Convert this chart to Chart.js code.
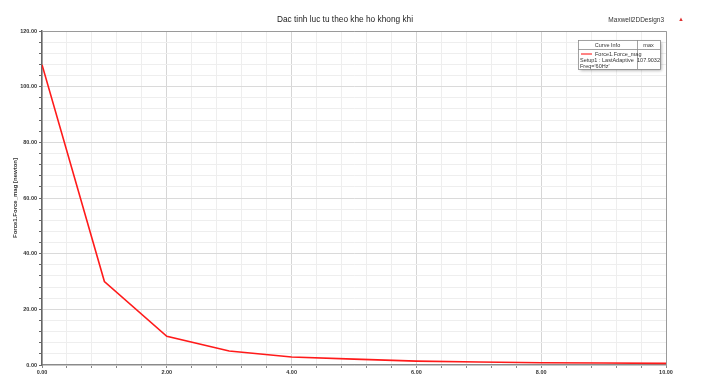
<!DOCTYPE html>
<html>
<head>
<meta charset="utf-8">
<script src="https://cdn.jsdelivr.net/npm/chart.js@4/dist/chart.umd.min.js"></script>
<style>
  html, body { margin: 0; padding: 0; background: #fff; }
  #wrap { position: relative; width: 710px; height: 377px; }
</style>
</head>
<body>
<div id="wrap"><canvas id="c" width="710" height="377"></canvas></div>
<script>
// Air gap (mm) and magnetic force magnitude (N)
const gap = [0, 1, 2, 3, 4, 5, 6, 7, 8, 9, 10];
const force = [107.9032, 30.0, 10.3, 5.0, 2.9, 2.1, 1.4, 1.1, 0.8, 0.7, 0.6];

const chartTitle = 'Dac tinh luc tu theo khe ho khong khi';
const designName = 'Maxwell2DDesign3';
const yAxisTitle = 'Force1.Force_mag [newton]';
const curveName = 'Force1.Force_mag';
const curveSetup = 'Setup1 : LastAdaptive';
const curveFreq = "Freq='60Hz'";

const FONT = '"Liberation Sans", Arial, sans-serif';
const near = (v, step) => Math.abs(v / step - Math.round(v / step)) < 1e-6;

// Title, design label, frame and curve-info box
const decor = {
  id: 'decor',
  afterDraw(chart) {
    const { ctx, chartArea: a } = chart;
    ctx.save();
    // top/right frame
    ctx.strokeStyle = '#9a9a9a';
    ctx.lineWidth = 1;
    ctx.beginPath();
    ctx.moveTo(a.left, a.top + 0.5);
    ctx.lineTo(a.right + 0.5, a.top + 0.5);
    ctx.lineTo(a.right + 0.5, a.bottom);
    ctx.stroke();

    ctx.fillStyle = '#222';
    ctx.font = '8.3px ' + FONT;
    ctx.textAlign = 'center';
    ctx.textBaseline = 'middle';
    ctx.fillText(chartTitle, 345, 20);

    ctx.font = '6.5px ' + FONT;
    ctx.textAlign = 'right';
    ctx.fillStyle = '#333';
    ctx.fillText(designName, 664, 20);
    ctx.fillStyle = '#e03030';
    ctx.font = '6px ' + FONT;
    ctx.textAlign = 'center';
    ctx.fillText('\u25B2', 681, 19);

    // curve info box
    const bx = 578, by = 40, bw = 82, bh = 29, cx = 637;
    ctx.shadowColor = 'rgba(0,0,0,0.35)';
    ctx.shadowBlur = 3;
    ctx.shadowOffsetX = 1.5;
    ctx.shadowOffsetY = 1.5;
    ctx.fillStyle = '#fff';
    ctx.fillRect(bx, by, bw, bh);
    ctx.shadowColor = 'transparent';
    ctx.strokeStyle = '#8a8a8a';
    ctx.lineWidth = 0.8;
    ctx.strokeRect(bx + 0.5, by + 0.5, bw, bh);
    ctx.beginPath();
    ctx.moveTo(bx, by + 9.5); ctx.lineTo(bx + bw, by + 9.5);
    ctx.moveTo(cx + 0.5, by); ctx.lineTo(cx + 0.5, by + bh);
    ctx.stroke();

    ctx.fillStyle = '#333';
    ctx.font = '5.5px ' + FONT;
    ctx.textAlign = 'center';
    ctx.fillText('Curve Info', (bx + cx) / 2, by + 5);
    ctx.fillText('max', (cx + bx + bw) / 2, by + 5);

    ctx.strokeStyle = '#ff3030';
    ctx.lineWidth = 1.2;
    ctx.beginPath();
    ctx.moveTo(bx + 3, by + 14); ctx.lineTo(bx + 14, by + 14);
    ctx.stroke();
    ctx.textAlign = 'left';
    ctx.fillText(curveName, bx + 17, by + 14);
    ctx.fillText(curveSetup, bx + 2, by + 20);
    ctx.fillText(curveFreq, bx + 2, by + 26);
    ctx.textAlign = 'center';
    ctx.fillText(Math.max(...force).toFixed(4), (cx + bx + bw) / 2, by + 20);
    ctx.restore();
  }
};

new Chart(document.getElementById('c'), {
  type: 'line',
  data: {
    datasets: [{
      data: gap.map((g, i) => ({ x: g, y: force[i] })),
      borderColor: '#ff1a1a',
      borderWidth: 1.6,
      pointRadius: 0,
      tension: 0,
      fill: false
    }]
  },
  options: {
    responsive: false,
    animation: false,
    layout: { padding: { top: 31, right: 44, bottom: 0, left: 0 } },
    plugins: { legend: { display: false }, tooltip: { enabled: false } },
    scales: {
      x: {
        type: 'linear',
        min: 0, max: 10,
        afterFit(s) { s.height = 12; },
        ticks: {
          stepSize: 0.4,
          autoSkip: false,
          maxRotation: 0,
          padding: 1,
          color: '#333',
          font: { family: FONT, size: 5.5, weight: 'bold' },
          callback: (v) => near(v, 2) ? Number(v).toFixed(2) : ''
        },
        grid: {
          color: (c) => near(c.tick.value, 2) ? '#d6d6d6' : '#eeeeee',
          tickColor: '#888',
          tickLength: 3,
          lineWidth: 1
        },
        border: { color: '#8a8a8a', width: 1.2 }
      },
      y: {
        min: 0, max: 120,
        afterFit(s) { s.width = 42; },
        ticks: {
          stepSize: 4,
          autoSkip: false,
          padding: 2,
          color: '#333',
          font: { family: FONT, size: 5.5, weight: 'bold' },
          callback: (v) => near(v, 20) ? Number(v).toFixed(2) : ''
        },
        grid: {
          color: (c) => near(c.tick.value, 20) ? '#dadada' : '#eeeeee',
          tickColor: '#666',
          tickLength: 3,
          lineWidth: 1
        },
        border: { color: '#666', width: 1.5 },
        title: {
          display: true,
          text: yAxisTitle,
          color: '#333',
          font: { family: FONT, size: 6, weight: 'bold' },
          padding: { top: 12, bottom: 0 }
        }
      }
    }
  },
  plugins: [decor]
});
</script>
</body>
</html>
